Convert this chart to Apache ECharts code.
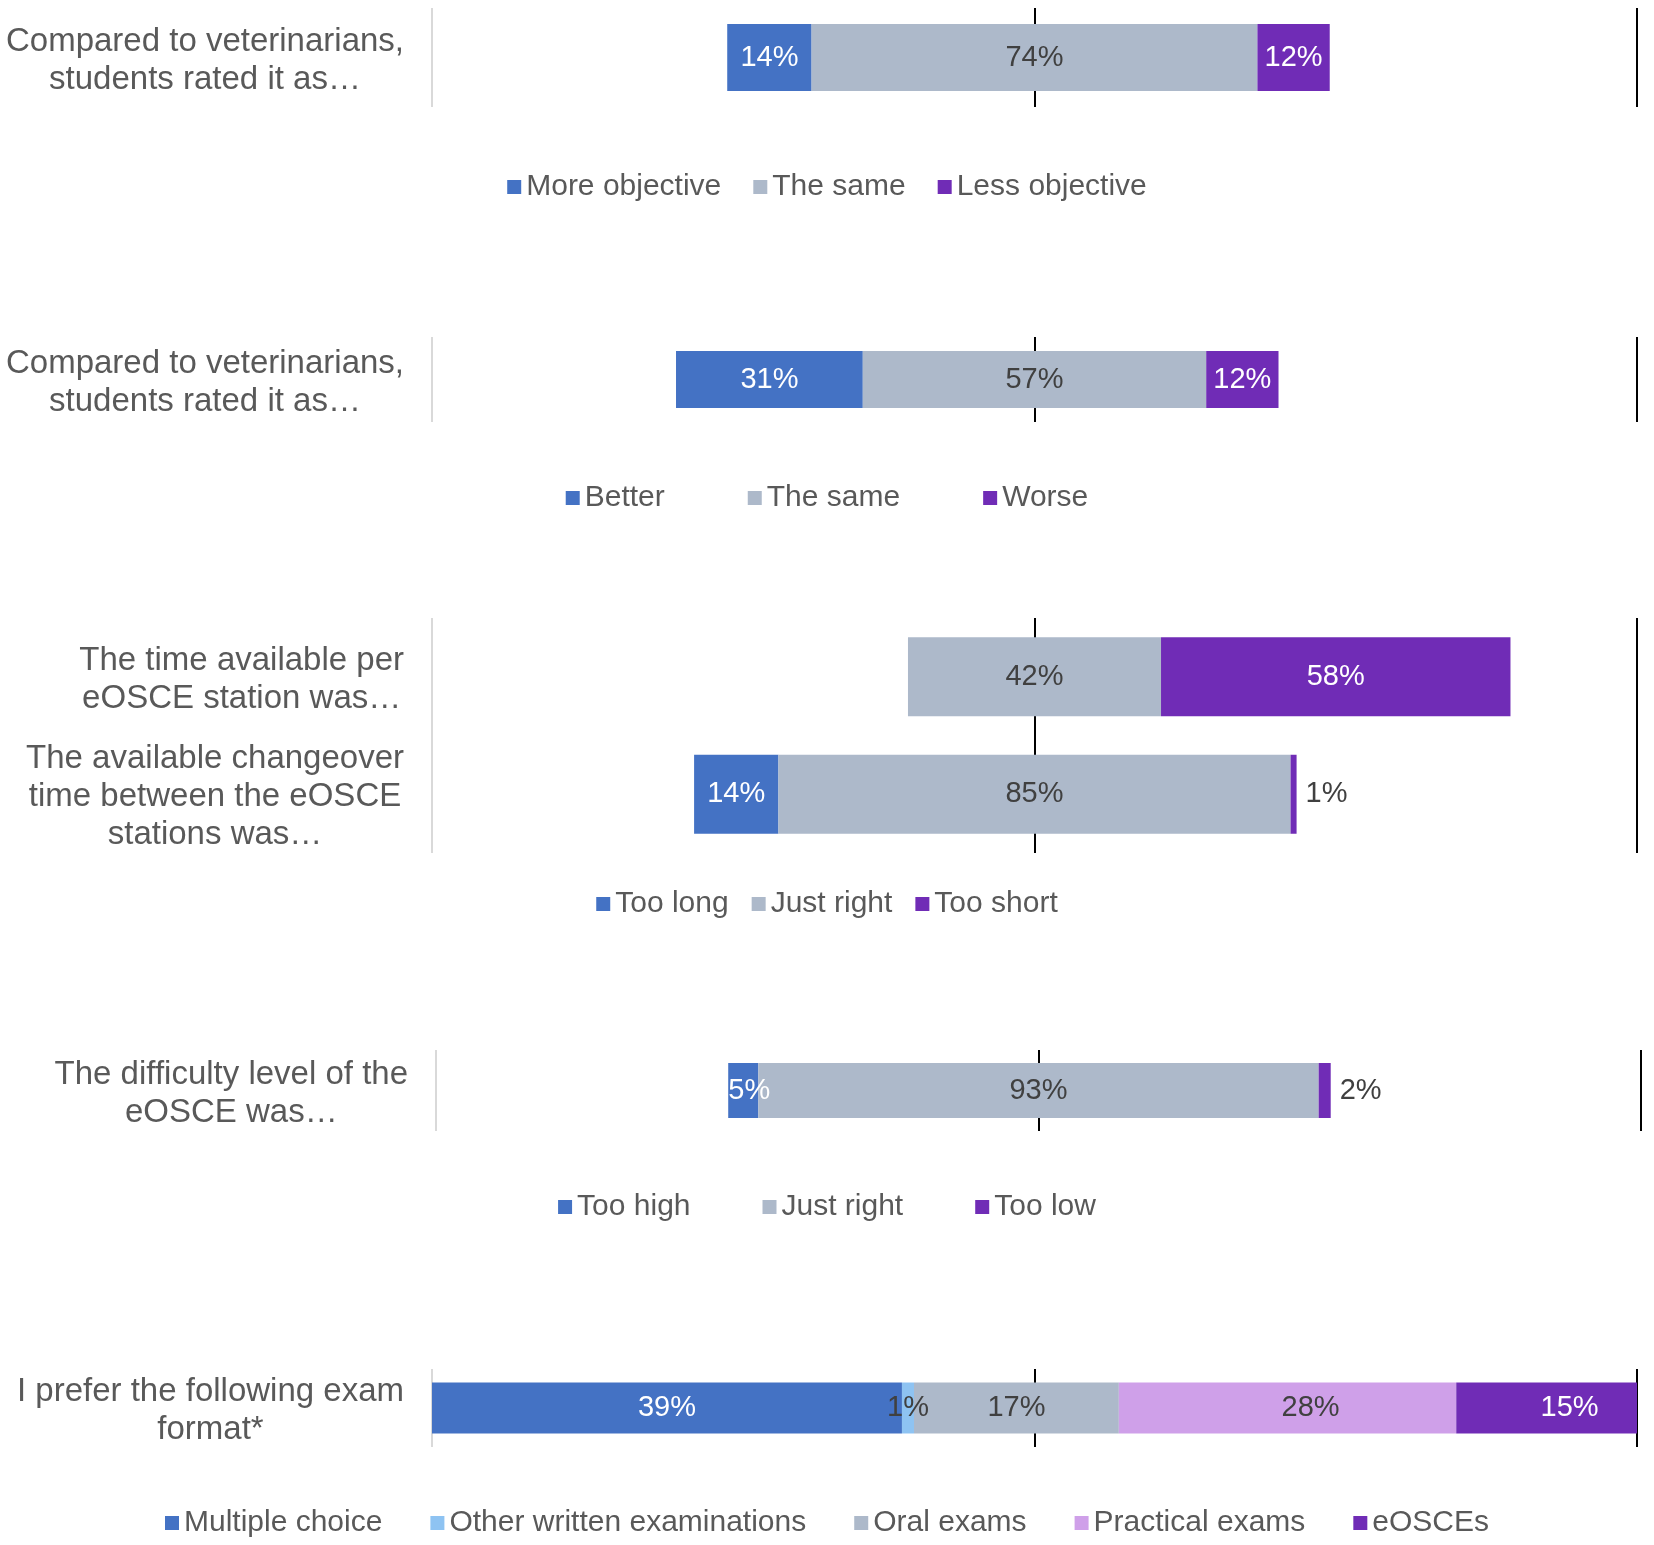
<!DOCTYPE html>
<html>
<head>
<meta charset="utf-8">
<script src="https://cdn.jsdelivr.net/npm/echarts@6/dist/echarts.min.js"></script>
<style>
html,body{margin:0;padding:0;background:#fff;}
#chart{width:1654px;height:1545px;}
</style>
</head>
<body>
<div id="chart"></div>
<script>
// ---- Data ----
const cat1 = ["Compared to veterinarians,\nstudents rated it as…"];
const names1 = ["More objective", "The same", "Less objective"];
const moreObjective = [14];
const sameObjective = [74];
const lessObjective = [12];

const cat2 = ["Compared to veterinarians,\nstudents rated it as…"];
const names2 = ["Better", "The same", "Worse"];
const better = [31];
const sameRating = [57];
const worse = [12];

const cat3 = ["The time available per\neOSCE station was…", "The available changeover\ntime between the eOSCE\nstations was…"];
const names3 = ["Too long", "Just right", "Too short"];
const tooLong = [0, 14];
const justRightTime = [42, 85];
const tooShort = [58, 1];

const cat4 = ["The difficulty level of the\neOSCE was…"];
const names4 = ["Too high", "Just right", "Too low"];
const tooHigh = [5];
const justRightDiff = [93];
const tooLow = [2];

const cat5 = ["I prefer the following exam\nformat*"];
const names5 = ["Multiple choice", "Other written examinations", "Oral exams", "Practical exams", "eOSCEs"];
const multipleChoice = [39];
const otherWritten = [1];
const oralExams = [17];
const practicalExams = [28];
const eOSCEs = [15];

// ---- Styling ----
const FONT = "'Liberation Sans', Arial, sans-serif";
const BLUE = '#4472C4', GRAY = '#ADB9CA', PURPLE = '#702CB6', LBLUE = '#8EC3F2', LPURPLE = '#CFA0E9';
const DARK = '#404040', TXT = '#595959';

const grids = [
  {left: 432, right: 17, top: 8, height: 99, bw: 67},
  {left: 432, right: 17, top: 337, height: 85, bw: 57},
  {left: 432, right: 17, top: 618, height: 235, bw: 79},
  {left: 436, right: 13, top: 1050, height: 81, bw: 55},
  {left: 432, right: 17, top: 1369, height: 78, bw: 51}
];
const legendY = [187, 498, 904, 1207, 1523];
const legendGap = [32, 83, 23, 72, 48];
// label x-shift per series (Excel label placement quirks)
const labelShift = [
  [0, 0, 0],
  [0, 0, 0],
  [0, 0, 0],
  [6, 0, 0],
  [0, 0, 0, 23, 23]
];

const charts = [
  {cats: cat1, names: names1, vals: [moreObjective, sameObjective, lessObjective], colors: [BLUE, GRAY, PURPLE], labelColors: ['#fff', DARK, '#fff'], diverging: true},
  {cats: cat2, names: names2, vals: [better, sameRating, worse], colors: [BLUE, GRAY, PURPLE], labelColors: ['#fff', DARK, '#fff'], diverging: true},
  {cats: cat3, names: names3, vals: [tooLong, justRightTime, tooShort], colors: [BLUE, GRAY, PURPLE], labelColors: ['#fff', DARK, '#fff'], diverging: true},
  {cats: cat4, names: names4, vals: [tooHigh, justRightDiff, tooLow], colors: [BLUE, GRAY, PURPLE], labelColors: ['#fff', DARK, '#fff'], diverging: true},
  {cats: cat5, names: names5, vals: [multipleChoice, otherWritten, oralExams, practicalExams, eOSCEs], colors: [BLUE, LBLUE, GRAY, LPURPLE, PURPLE], labelColors: ['#fff', DARK, DARK, DARK, '#fff'], diverging: false}
];

const option = {
  backgroundColor: '#fff',
  animation: false,
  grid: [], xAxis: [], yAxis: [], legend: [], series: []
};

charts.forEach((c, i) => {
  const g = grids[i];
  option.grid.push({left: g.left, right: g.right, top: g.top, height: g.height, containLabel: false});
  option.xAxis.push({
    type: 'value', gridIndex: i,
    min: 0, max: c.diverging ? 200 : 100, interval: c.diverging ? 100 : 50,
    axisLabel: {show: false}, axisLine: {show: false}, axisTick: {show: false},
    splitLine: {show: true, lineStyle: {color: ['#D9D9D9', '#000000', '#000000'], width: 2}}
  });
  option.yAxis.push({
    type: 'category', gridIndex: i, data: c.cats, inverse: true,
    axisLine: {show: false}, axisTick: {show: false}, splitLine: {show: false},
    axisLabel: {
      margin: 28, align: 'right', padding: [6, 0, 0, 0],
      formatter: v => v.split('\n').map(l => '{c|' + l + '}').join('\n'),
      rich: {c: {align: 'center', fontFamily: FONT, fontSize: 33, lineHeight: 38, color: TXT}}
    }
  });
  option.legend.push({
    data: c.names.slice(),
    left: 'center', top: legendY[i] - 15, padding: 0,
    itemGap: legendGap[i], itemWidth: 14, itemHeight: 14, icon: 'rect',
    selectedMode: false,
    textStyle: {fontFamily: FONT, fontSize: 30, color: TXT, lineHeight: 30}
  });
  const stack = 'st' + i;
  if (c.diverging) {
    const offset = c.vals[0].map((a, k) => 100 - (a + c.vals[1][k] / 2));
    option.series.push({
      type: 'bar', name: 'offset' + i, stack: stack, xAxisIndex: i, yAxisIndex: i,
      data: offset, barWidth: g.bw, silent: true,
      itemStyle: {color: 'rgba(0,0,0,0)'}, label: {show: false}
    });
  }
  c.names.forEach((n, s) => {
    const last = s === c.names.length - 1;
    const data = c.vals[s].map(v => {
      const item = {value: v};
      if (c.diverging && last && v < 3) {
        item.label = {position: 'right', color: DARK, distance: 9, offset: [0, 0]};
      }
      return item;
    });
    option.series.push({
      type: 'bar', name: n, stack: stack, xAxisIndex: i, yAxisIndex: i,
      data: data, barWidth: g.bw,
      itemStyle: {color: c.colors[s]},
      label: {
        show: true, position: 'inside', offset: [labelShift[i][s], 0],
        formatter: p => p.value > 0 ? p.value + '%' : '',
        fontFamily: FONT, fontSize: 29, color: c.labelColors[s]
      }
    });
  });
});

const chart = echarts.init(document.getElementById('chart'), null, {renderer: 'canvas'});
chart.setOption(option);
</script>
</body>
</html>
